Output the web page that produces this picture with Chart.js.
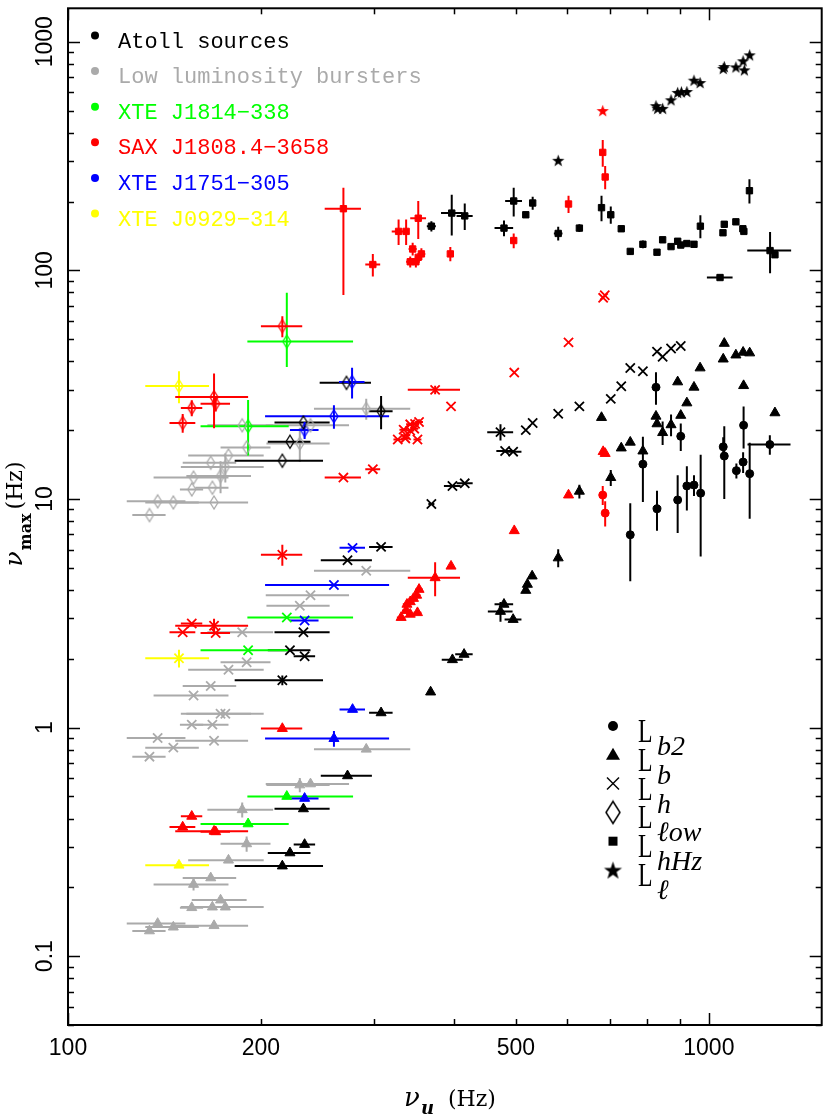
<!DOCTYPE html>
<html>
<head>
<meta charset="utf-8">
<title>nu_max vs nu_u</title>
<script src="https://cdn.jsdelivr.net/npm/chart.js@4.4.1/dist/chart.umd.min.js"></script>
<style>
  html, body { margin: 0; padding: 0; background: #fff; }
  canvas { display: block; }
</style>
</head>
<body>
<canvas id="grafica" width="830" height="1116"></canvas>
<script>
// filas: [nu_u, nu_max, error nu_u, error nu_max] en Hz; error = numero o [menos, mas]

// Atoll sources (negro)
const atollLb2 = [
    [827, 30.8, 0, 5], [904, 18.8, 0, 2.6], [789, 14.2, 0, 4.5], [754, 6.97, 0, 2.6], [830, 9.05, 0, 1.8],
    [894, 9.9, 0, 2.8], [924, 11.4, 0, 2.5], [948, 11.5, 0, 1.2], [971, 10.6, 0, 5], [1053, 16.9, 0, 1.7],
    [1057, 15.4, 0, 5.4], [1104, 13.3, 0, 1], [1131, 14.5, 0, 1.5], [1133, 21.0, 0, 4.4], [1158, 12.9, 0, 4.7],
    [1245, 17.3, 96, 1.7]
];
const atollLb = [
    [680, 22.7], [730, 16.7], [754, 17.7], [789, 16.2], [827, 23.0], [830, 21.3], [847, 19.5, 0, 2.3],
    [873, 21.1, 0, 2.3], [894, 32.5], [904, 23.2], [924, 26.3], [948, 30.8], [969, 37.4], [1053, 40.9],
    [1057, 47.9], [1102, 42.6], [1131, 43.8], [1158, 43.5], [1133, 31.3], [1268, 23.8],
    [703, 12.4, 0, 1.0], [628, 10.8, 0, 0.75], [582, 5.52, 0, 0.5], [530, 4.60], [521, 4.23], [518, 3.98],
    [479, 3.46, 16], [473, 3.22, 21, 0.32], [495, 2.97, 15], [415, 2.09, 13], [398, 1.98, 15], [368, 1.43, 3],
    [308, 1.16, 13], [273, 0.615, 25], [233, 0.441, 23], [234, 0.308, 9], [222, 0.283, 17], [216, 0.248, 34]
];
const atollLh = [
    [473, 19.6, 22, 1.6], [481, 16.2, 15], [495, 16.1, 15], [518, 20.0], [531, 21.5], [582, 23.6], [628, 25.4],
    [703, 27.4], [730, 31.1], [754, 37.4], [789, 36.2], [830, 44.1], [847, 41.9], [873, 45.5], [904, 46.7],
    [398, 11.4, 12], [416, 11.7, 12], [369, 9.5, 4],
    [308, 6.17, 13], [273, 5.39, 25], [233, 2.61, 23], [222, 2.18, 17], [234, 2.05, 9], [216, 1.61, 34, 0.08]
];
const atollLlow = [[272, 32.2, 25], [308, 24.2, 13, 4], [233, 21.6, 23], [222, 17.8, 17], [216, 14.7, 34]];
const atollLhHz = [
    [369, 156, 6, 8], [397, 178, 15, 36], [416, 173, 12, 23], [479, 153, 16, 12], [496, 201, 15, 29], [518, 175, 0, 5],
    [531, 197, 0, 13], [582, 145, 9, 10], [628, 153, 0, 6], [680, 188, 0, 24], [703, 175, 0, 15], [730, 152, 0, 4],
    [754, 121, 0, 4], [789, 130, 0, 5], [830, 120, 0, 3], [847, 136, 0, 4], [873, 127, 0, 3], [894, 134, 0, 3],
    [904, 129, 0, 3], [924, 131, 0, 3], [948, 130, 0, 3], [970, 156, 0, 18], [1052, 146, 0, 4], [1057, 159, 0, 5],
    [1102, 163, 0, 5], [1130, 152, 0, 4], [1134, 148, 0, 4], [1157, 223, 0, 27], [1246, 122, 98, 25],
    [1268, 117, 0, 2], [1041, 93, 48, 2]
];
const atollLl = [
    [582, 303], [827, 525], [832, 511], [847, 511], [873, 557], [894, 600], [906, 604], [924, 606], [948, 679],
    [969, 663], [1053, 764], [1057, 779], [1102, 776], [1131, 825], [1136, 753], [1158, 876]
];

// Low luminosity bursters (gris)
const lowLlow = [
    [187, 21.0, 22], [292, 24.8, 50, 2.6], [239, 21.0, 35.5], [230, 17.5, 26, 3], [190, 16.8, 17], [178, 15.5, 24],
    [167, 14.4, 16], [176, 13.8, 26, 2], [173, 12.6, 20, 2], [157, 12.4, 21], [156, 11.0, 6.5], [168, 11.2, 10],
    [138, 9.76, 14.5], [146, 9.65, 14], [169, 9.65, 22], [134, 8.5, 8]
];
const lowLh = [
    [292, 4.85, 50], [239, 3.79, 35.5], [230, 3.41, 26], [187, 2.61, 22], [190, 1.93, 17], [178, 1.79, 24],
    [167, 1.52, 16], [157, 1.38, 21], [173, 1.15, 20], [176, 1.15, 26], [156, 1.03, 6.5], [168, 1.03, 10],
    [138, 0.90, 14.5], [146, 0.817, 14], [169, 0.876, 22], [134, 0.746, 8]
];
const lowLb = [
    [292, 0.804, 50], [230, 0.561, 26, 0.04], [239, 0.567, 35.5], [187, 0.437, 22, 0.033], [190, 0.31, 17, 0.024],
    [178, 0.263, 24], [167, 0.220, 16], [157, 0.206, 21, 0.012], [173, 0.176, 17], [156, 0.163, 6.5],
    [168, 0.164, 10], [176, 0.164, 26], [138, 0.139, 14.5], [146, 0.134, 14], [169, 0.136, 22], [134, 0.129, 8]
];

// XTE J1814-338 (verde)
const j1814Llow = [[219.5, 48.8, [29, 59], [11, 31]], [191, 20.8, 30, [5.3, 6.3]]];
const j1814Lh = [[219.5, 3.03, [29, 59]], [191, 2.18, 30]];
const j1814Lb = [[219.5, 0.50, [29, 59]], [191, 0.379, 30]];

// XTE J1751-305 (azul)
const j1751Llow = [[277.5, 32.5, 12.7, 5], [260, 23.0, 57, 2.7], [234, 20.0, 12, 1.7]];
const j1751Lh = [[278, 6.11, 12.7], [260, 4.20, 57], [234, 2.94, 12]];
const j1751Lb = [[278, 1.20, 12.7], [260, 0.895, 57, 0.07], [234, 0.49, 12]];

// XTE J0929-314 (amarillo)
const j0929Llow = [[149, 31.2, 17, 5]];
const j0929Lh = [[149, 2.01, 17, 0.18]];
const j0929Lb = [[149, 0.25, 17]];

// SAX J1808.4-3658 (rojo)
const saxLl = [[683, 500]];
const saxLhHz = [
    [269, 186, 17.5, [108, 44]], [299, 106, 8, 12], [328, 148, 8, 19], [337, 148, 0, 19], [352, 169, 10, 32],
    [342, 109, 5, 6], [349, 109, 5, 6], [352, 114], [345, 124, 5, 8], [356, 118, 5, 7], [395, 118, 0, 8.5],
    [496, 135, 0, 10], [604, 195, 0, 17], [683, 328, 0, 44], [689, 256, 0, 30]
];
const saxLlow = [[216, 57, 16, 6], [169, 27.9, 22, 7.5], [170, 26.1, 9, 2], [156, 25.0, 6, 2], [151, 21.5, 7, 2]];
const saxLh = [
    [374, 30.0, 35, 1.3], [396, 25.4], [342, 21.2, 5], [348, 21.3, 5], [353, 21.7, 5], [334, 20.1, 5], [342, 19.9, 5],
    [347, 20.3, 5], [337, 19.0, 5], [327, 18.2, 5], [351, 18.2, 5], [336, 18.4, 5], [269, 12.4, 17.5], [299, 13.5, 8],
    [497, 35.7], [604, 48.4], [688, 77.8], [684, 75.8],
    [216, 5.70, 16, 0.6], [156, 2.85, 6], [169, 2.79, 22, 0.2], [151, 2.61, 7], [170, 2.59, 9]
];
const saxLb = [
    [684, 16.1], [689, 15.8], [604, 10.4], [497, 7.26], [396, 5.08], [374, 4.52, 35, 0.77], [353, 4.02, 5],
    [350, 3.79, 5], [346, 3.67, 5], [342, 3.55, 5], [338, 3.46, 5], [337, 3.25, 5], [342, 3.13, 5], [331, 3.03, 5],
    [351, 3.18, 5],
    [216, 0.99, 16], [156, 0.409, 6], [151, 0.367, 7], [169, 0.352, 22], [170, 0.35, 9]
];
const saxLb2 = [[683, 10.4, 0, 1.0], [689, 8.67, 0, 1.1]];

// ejes y leyendas
const ticksX = [100, 200, 500, 1000];
const ticksY = [0.1, 1, 10, 100, 1000];
const fuentes = ['Atoll sources', 'Low luminosity bursters', 'XTE J1814\u2212338', 'SAX J1808.4\u22123658', 'XTE J1751\u2212305', 'XTE J0929\u2212314'];
const colores = ['#000000', '#aaaaaa', '#00ff00', '#ff0000', '#0000ff', '#ffff00'];
const componentes = ['b2', 'b', 'h', '\u2113ow', 'hHz', '\u2113'];
const simbolos = ['circle', 'triangle', 'crossRot', 'rombo', 'rect', 'estrella'];

const [NEGRO, GRIS, VERDE, ROJO, AZUL, AMARILLO] = colores;

// simbolos que Chart.js no trae: rombo alargado y estrella rellena
const rombo = (color, w, h, lw) => {
    const c = document.createElement('canvas');
    c.width = w + 4;
    c.height = h + 4;
    const g = c.getContext('2d');
    g.strokeStyle = color;
    g.lineWidth = lw;
    g.beginPath();
    g.moveTo(c.width / 2, 2);
    g.lineTo(c.width / 2 + w / 2, c.height / 2);
    g.lineTo(c.width / 2, c.height - 2);
    g.lineTo(c.width / 2 - w / 2, c.height / 2);
    g.closePath();
    g.stroke();
    return c;
};

const estrella = (color, r) => {
    const c = document.createElement('canvas');
    c.width = c.height = Math.ceil(r * 2 + 2);
    const g = c.getContext('2d');
    const cx = c.width / 2, cy = c.height / 2 + r * 0.1;
    g.fillStyle = color;
    g.beginPath();
    for (let i = 0; i < 10; i++) {
        const rr = i % 2 ? r * 0.4 : r;
        const a = -Math.PI / 2 + i * Math.PI / 5;
        g.lineTo(cx + rr * Math.cos(a), cy + rr * Math.sin(a));
    }
    g.closePath();
    g.fill();
    return c;
};

const serie = (filas, color, estilo) => {
    let pointStyle = estilo;
    let radio = 4;
    if (estilo === 'rombo') pointStyle = rombo(color, 8, 13, 1.3);
    if (estilo === 'estrella') pointStyle = estrella(color, 6.5);
    if (estilo === 'triangle') radio = 5.8;
    if (estilo === 'rect') radio = 4.5;
    if (estilo === 'crossRot') radio = 6.5;
    return {
        data: filas.map(f => ({ x: f[0], y: f[1] })),
        filas: filas,
        borderColor: color,
        backgroundColor: color,
        pointStyle: pointStyle,
        pointRadius: radio,
        pointBorderWidth: estilo === 'crossRot' ? 1.8 : 1,
        showLine: false
    };
};

const datasets = [
    serie(lowLlow, GRIS, 'rombo'), serie(lowLh, GRIS, 'crossRot'), serie(lowLb, GRIS, 'triangle'),
    serie(atollLlow, NEGRO, 'rombo'), serie(atollLh, NEGRO, 'crossRot'), serie(atollLb, NEGRO, 'triangle'),
    serie(atollLb2, NEGRO, 'circle'), serie(atollLhHz, NEGRO, 'rect'), serie(atollLl, NEGRO, 'estrella'),
    serie(j1814Llow, VERDE, 'rombo'), serie(j1814Lh, VERDE, 'crossRot'), serie(j1814Lb, VERDE, 'triangle'),
    serie(j1751Llow, AZUL, 'rombo'), serie(j1751Lh, AZUL, 'crossRot'), serie(j1751Lb, AZUL, 'triangle'),
    serie(j0929Llow, AMARILLO, 'rombo'), serie(j0929Lh, AMARILLO, 'crossRot'), serie(j0929Lb, AMARILLO, 'triangle'),
    serie(saxLlow, ROJO, 'rombo'), serie(saxLh, ROJO, 'crossRot'), serie(saxLb, ROJO, 'triangle'),
    serie(saxLb2, ROJO, 'circle'), serie(saxLhHz, ROJO, 'rect'), serie(saxLl, ROJO, 'estrella')
];

const linea = (ctx, x1, y1, x2, y2) => {
    ctx.beginPath();
    ctx.moveTo(x1, y1);
    ctx.lineTo(x2, y2);
    ctx.stroke();
};

// Barras de error, dibujadas con las escalas de Chart.js
const barrasError = {
    id: 'barrasError',
    beforeDatasetsDraw(chart) {
        const { ctx, chartArea: a, scales: { x, y } } = chart;
        ctx.save();
        ctx.beginPath();
        ctx.rect(a.left, a.top, a.right - a.left, a.bottom - a.top);
        ctx.clip();
        ctx.lineWidth = 2;
        chart.data.datasets.forEach(ds => {
            ctx.strokeStyle = ds.borderColor;
            ds.filas.forEach(f => {
                const ex = f[2] || 0, ey = f[3] || 0;
                const [exm, exp] = Array.isArray(ex) ? ex : [ex, ex];
                const [eym, eyp] = Array.isArray(ey) ? ey : [ey, ey];
                const px = x.getPixelForValue(f[0]);
                const py = y.getPixelForValue(f[1]);
                if (exm || exp) {
                    linea(ctx, x.getPixelForValue(Math.max(f[0] - exm, 1)), py, x.getPixelForValue(f[0] + exp), py);
                }
                if (eym || eyp) {
                    linea(ctx, px, y.getPixelForValue(Math.max(f[1] - eym, 0.001)), px, y.getPixelForValue(f[1] + eyp));
                }
            });
        });
        ctx.restore();
    }
};

const dibujarSimbolo = (ctx, estilo, cx, cy, color) => {
    ctx.save();
    ctx.fillStyle = color;
    ctx.strokeStyle = color;
    if (estilo === 'circle') {
        ctx.beginPath();
        ctx.arc(cx, cy, 5, 0, Math.PI * 2);
        ctx.fill();
    } else if (estilo === 'triangle') {
        ctx.beginPath();
        ctx.moveTo(cx, cy - 7);
        ctx.lineTo(cx + 7, cy + 5);
        ctx.lineTo(cx - 7, cy + 5);
        ctx.closePath();
        ctx.fill();
    } else if (estilo === 'crossRot') {
        ctx.lineWidth = 1.4;
        linea(ctx, cx - 6, cy - 6, cx + 6, cy + 6);
        linea(ctx, cx - 6, cy + 6, cx + 6, cy - 6);
    } else if (estilo === 'rombo') {
        const c = rombo(color, 14, 22, 1.5);
        ctx.drawImage(c, cx - c.width / 2, cy - c.height / 2);
    } else if (estilo === 'rect') {
        ctx.fillRect(cx - 4.5, cy - 4.5, 9, 9);
    } else {
        const c = estrella(color, 9.5);
        ctx.drawImage(c, cx - c.width / 2, cy - c.height / 2);
    }
    ctx.restore();
};

const tituloEje = (ctx, partes) => {
    let w = 0;
    partes.forEach(p => { ctx.font = p[1]; w += ctx.measureText(p[0]).width + p[3]; });
    let cx = -w / 2;
    partes.forEach(p => {
        ctx.font = p[1];
        ctx.fillText(p[0], cx, p[2]);
        cx += ctx.measureText(p[0]).width + p[3];
    });
};

// Marco con marcas hacia dentro, etiquetas, titulos y leyendas
const marco = {
    id: 'marco',
    afterDatasetsDraw(chart) {
        const { ctx, chartArea: a, scales: { x, y } } = chart;
        ctx.save();
        ctx.strokeStyle = '#000';
        ctx.lineWidth = 1.5;
        for (let d = 100; d <= 1000; d *= 10) {
            for (let k = 1; k <= 9; k++) {
                const v = d * k;
                if (v > 1500 || (d === 1000 && k > 1)) continue;
                const px = Math.round(x.getPixelForValue(v)) + 0.5;
                const len = k === 1 ? 12 : 6;
                linea(ctx, px, a.bottom, px, a.bottom - len);
                linea(ctx, px, a.top, px, a.top + len);
            }
        }
        for (let d = 0.01; d <= 1000; d *= 10) {
            for (let k = 1; k <= 9; k++) {
                const v = d * k;
                if (v < 0.05 || v > 1400) continue;
                const py = Math.round(y.getPixelForValue(v)) + 0.5;
                const len = k === 1 ? 12 : 6;
                linea(ctx, a.left, py, a.left + len, py);
                linea(ctx, a.right, py, a.right - len, py);
            }
        }
        ctx.lineWidth = 2;
        ctx.strokeRect(a.left, a.top, a.right - a.left, a.bottom - a.top);

        // etiquetas de los ejes
        ctx.fillStyle = '#000';
        ctx.font = '23px "Liberation Sans", Arial, sans-serif';
        ctx.textAlign = 'center';
        ctx.textBaseline = 'alphabetic';
        ticksX.forEach(v => ctx.fillText(String(v), x.getPixelForValue(v), 1055));
        ticksY.forEach(v => {
            ctx.save();
            ctx.translate(52, y.getPixelForValue(v));
            ctx.rotate(-Math.PI / 2);
            ctx.fillText(String(v), 0, 0);
            ctx.restore();
        });

        // titulos
        ctx.textAlign = 'left';
        ctx.save();
        ctx.translate(450, 1106);
        tituloEje(ctx, [
            ['\u03bd', 'italic 26px "DejaVu Serif"', 0, 1],
            ['u', 'bold italic 18px "DejaVu Serif"', 8, 14],
            ['(Hz)', '22px "DejaVu Serif"', 0, 0]
        ]);
        ctx.restore();
        ctx.save();
        ctx.translate(22, 514);
        ctx.rotate(-Math.PI / 2);
        tituloEje(ctx, [
            ['\u03bd', 'italic 25px "DejaVu Serif"', 0, 1],
            ['max', 'bold 16px "DejaVu Serif"', 9, 4],
            ['(Hz)', '22px "DejaVu Serif"', 0, 0]
        ]);
        ctx.restore();

        // leyenda de fuentes
        ctx.font = '22px "Liberation Mono", "DejaVu Sans Mono", monospace';
        fuentes.forEach((t, i) => {
            const cy = 35.5 + i * 35.6;
            ctx.fillStyle = colores[i];
            ctx.beginPath();
            ctx.arc(95, cy, 4, 0, Math.PI * 2);
            ctx.fill();
            ctx.fillText(t, 118, cy + 12);
        });

        // leyenda de simbolos
        ctx.fillStyle = '#000';
        simbolos.forEach((s, i) => {
            const cy = 726 + i * 28.8;
            dibujarSimbolo(ctx, s, 613, cy, '#000');
            ctx.save();
            ctx.translate(638, cy + 16);
            ctx.scale(0.7, 1);
            ctx.font = '34px "Liberation Serif", serif';
            ctx.fillText('L', 0, 0);
            ctx.restore();
            ctx.font = 'italic 28px "Liberation Serif", serif';
            ctx.fillText(componentes[i], 657, cy + 29);
        });
        ctx.restore();
    }
};

new Chart(document.getElementById('grafica').getContext('2d'), {
    type: 'scatter',
    data: { datasets: datasets },
    options: {
        responsive: false,
        devicePixelRatio: 1,
        animation: false,
        layout: { padding: { left: 68, top: 3, right: 2, bottom: 91 } },
        plugins: { legend: { display: false }, tooltip: { enabled: false } },
        scales: {
            x: { type: 'logarithmic', min: 100, max: 1500, display: false },
            y: { type: 'logarithmic', min: 0.05, max: 1400, display: false }
        }
    },
    plugins: [barrasError, marco]
});
</script>
</body>
</html>
